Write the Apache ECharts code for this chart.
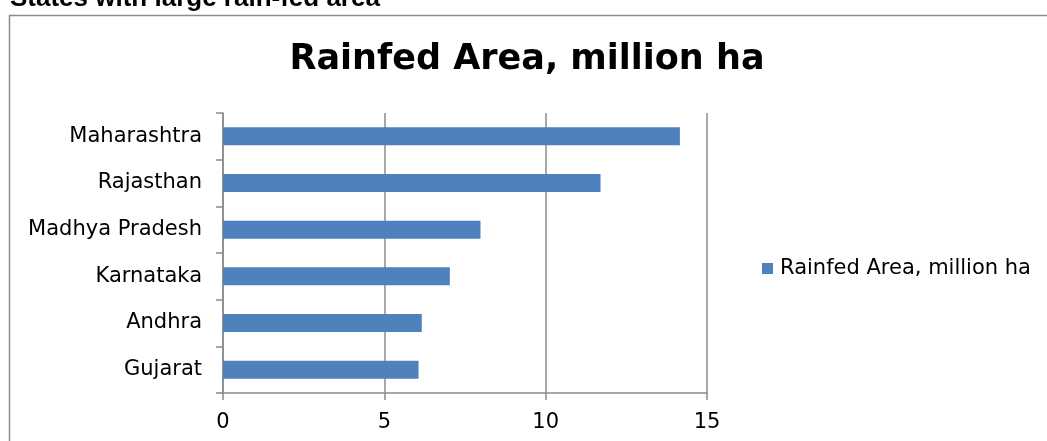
<!DOCTYPE html>
<html>
<head>
<meta charset="utf-8">
<script src="https://cdn.jsdelivr.net/npm/echarts@6/dist/echarts.min.js"></script>
<style>
  html, body { margin: 0; padding: 0; background: #fff; }
  #main { width: 1047px; height: 441px; }
</style>
</head>
<body>
<div id="main"></div>
<script>
var states = ['Maharashtra', 'Rajasthan', 'Madhya Pradesh', 'Karnataka', 'Andhra', 'Gujarat'];
var rainfedArea = [14.16, 11.70, 7.98, 7.03, 6.16, 6.06];
var seriesName = 'Rainfed Area, million ha';
var headerText = 'States with large rain-fed area';

var chart = echarts.init(document.getElementById('main'));

var lineGray = '#8a8a8a';
var font = '"DejaVu Sans", Verdana, sans-serif';

var option = {
    animation: false,
    backgroundColor: '#fff',
    graphic: [
        {
            type: 'text',
            left: 10,
            top: -14,
            style: {
                text: headerText,
                font: 'bold 26px "Liberation Sans", Arial, sans-serif',
                fill: '#000'
            }
        },
        {
            type: 'polyline',
            shape: { points: [[9.5, 441], [9.5, 15.5], [1047, 15.5]] },
            style: { stroke: '#8c8c8c', lineWidth: 1.5, fill: null }
        },
        {
            type: 'text',
            x: 527,
            y: 60,
            style: {
                text: seriesName,
                font: 'bold 35px ' + font,
                fill: '#000',
                align: 'center',
                verticalAlign: 'middle'
            }
        }
    ],
    legend: {
        left: 757,
        top: 253,
        itemWidth: 11,
        itemHeight: 11,
        icon: 'rect',
        textStyle: { fontFamily: font, fontSize: 21, color: '#000', padding: [0, 0, 0, 2] },
        data: [seriesName]
    },
    grid: { left: 223, right: 340, top: 113, bottom: 48, containLabel: false },
    xAxis: {
        type: 'value',
        min: 0,
        max: 15,
        interval: 5,
        axisLine: { show: true, lineStyle: { color: lineGray, width: 1.5 } },
        axisTick: { show: true, length: 7, lineStyle: { color: lineGray, width: 1.5 } },
        axisLabel: { fontFamily: font, fontSize: 21, color: '#000', margin: 19 },
        splitLine: { show: true, lineStyle: { color: lineGray, width: 1.5 } }
    },
    yAxis: {
        type: 'category',
        inverse: true,
        data: states,
        axisLine: { show: true, lineStyle: { color: lineGray, width: 1.5 } },
        axisTick: { show: true, length: 7, lineStyle: { color: lineGray, width: 1.5 } },
        axisLabel: { fontFamily: font, fontSize: 21, color: '#000', margin: 21 }
    },
    series: [{
        name: seriesName,
        type: 'bar',
        data: rainfedArea,
        barWidth: 18,
        itemStyle: { color: '#4F81BD' }
    }]
};

chart.setOption(option);
</script>
</body>
</html>
